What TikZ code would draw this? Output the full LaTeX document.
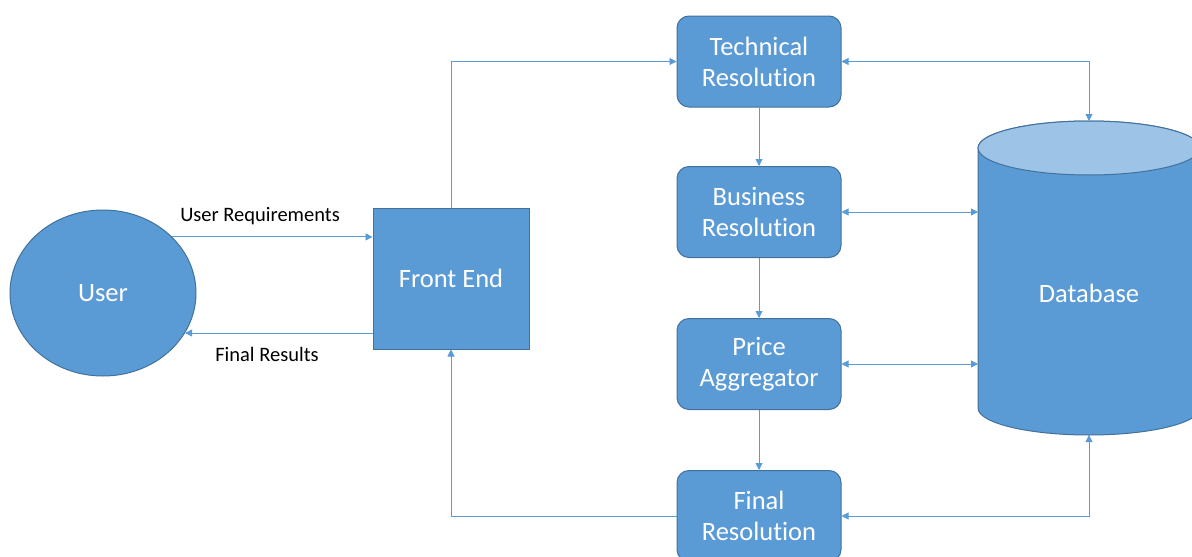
\documentclass[tikz,border=0pt]{standalone}
\usepackage{fontspec}
\setmainfont[Ligatures={NoCommon}]{Carlito}
\usetikzlibrary{arrows.meta,shapes.geometric}
\definecolor{fillblue}{HTML}{5B9BD5}
\definecolor{edgeblue}{HTML}{41719C}
\definecolor{lineblue}{HTML}{5B9BD5}
\definecolor{topblue}{HTML}{9DC3E6}
\begin{document}
\begin{tikzpicture}[x=1pt,y=-1pt,
 shapebase/.style={draw=edgeblue, fill=fillblue, line width=1pt, text=white, font=\fontsize{26.5}{31}\selectfont, align=center, inner sep=0pt},
 proc/.style={shapebase, rounded corners=12pt, minimum width=164pt, minimum height=91pt},
 conn/.style={draw=lineblue, line width=0.9pt, -{Triangle[width=7pt,length=7pt]}},
 biconn/.style={draw=lineblue, line width=0.9pt, {Triangle[width=7pt,length=7pt]}-{Triangle[width=7pt,length=7pt]}},
 lbl/.style={font=\fontsize{20.5}{24}\selectfont, text=black}]
\clip (0,0) rectangle (1192,557);
\fill[white] (0,0) rectangle (1192,557);
% nodes
\node[shapebase, ellipse, minimum width=186pt, minimum height=166pt] (user) at (103,293) {User};
\node[shapebase, rectangle, minimum width=156pt, minimum height=141pt] (fe) at (451,278.5) {Front End};
\node[proc] (tech) at (759,61.5) {Technical\\Resolution};
\node[proc] (bus) at (759,212) {Business\\Resolution};
\node[proc] (price) at (759,364) {Price\\Aggregator};
\node[proc] (fin) at (759,516) {Final\\Resolution};
% database cylinder
\filldraw[fill=fillblue, draw=edgeblue, line width=1pt] (978,148) -- (978,408) arc[start angle=180, end angle=0, x radius=111, y radius=27] -- (1200,148) arc[start angle=0, end angle=-180, x radius=111, y radius=27] -- cycle;
\filldraw[fill=topblue, draw=edgeblue, line width=1pt] (1089,148) ellipse [x radius=111, y radius=27];
\node[minimum width=222pt, minimum height=314pt, inner sep=0pt, outer sep=0pt] (db) at (1089,278) {};
\node[text=white, font=\fontsize{26.5}{31}\selectfont] (dblabel) at (1089,293) {Database};
% labels
\node[lbl] (lreq) at (260,216) {User Requirements};
\node[lbl] (lres) at (267,354) {Final Results};
% connectors
\draw[conn] (user.39.2) -- (user.39.2 -| fe.west);
\draw[conn] (fe.west |- user.-26.1) -- (user.-26.1);
\draw[conn] (fe.north) |- (tech.west);
\draw[conn] (tech.south) -- (bus.north);
\draw[conn] (bus.south) -- (price.north);
\draw[conn] (price.south) -- (fin.north);
\draw[biconn] (tech.east) -| (db.north);
\draw[biconn] (bus.east) -- (bus.east -| db.west);
\draw[biconn] (price.east) -- (price.east -| db.west);
\draw[biconn] (fin.east) -| (db.south);
\draw[conn] (fin.west) -| (fe.south);
\end{tikzpicture}
\end{document}
